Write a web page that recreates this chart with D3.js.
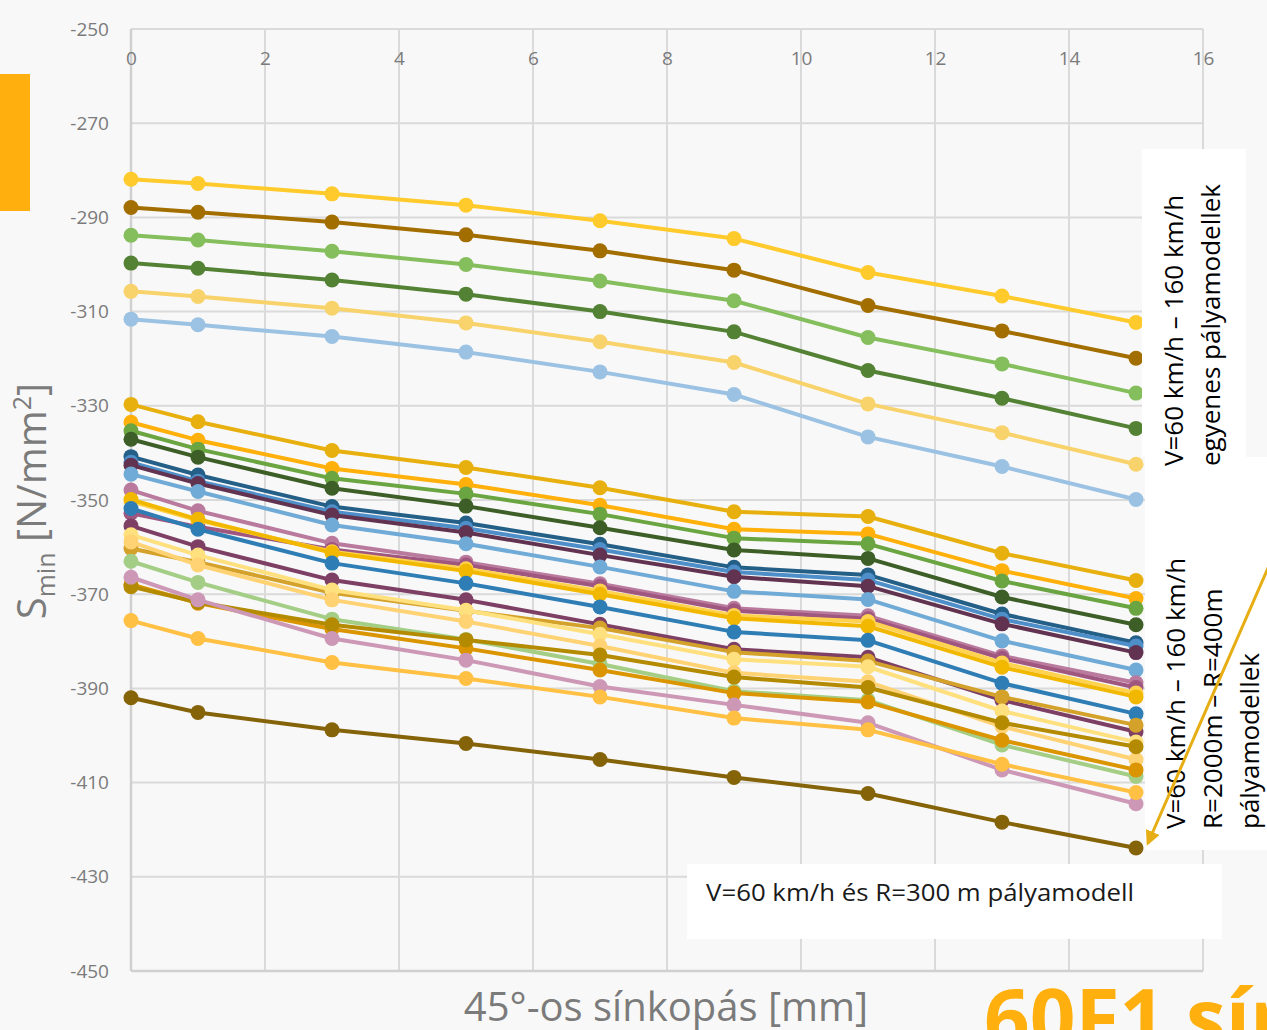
<!DOCTYPE html>
<html>
<head>
<meta charset="utf-8">
<script src="https://cdn.jsdelivr.net/npm/d3@7"></script>
<style>
  html, body { margin: 0; padding: 0; background: #f8f8f8; overflow: hidden; }
  svg { display: block; font-family: 'Open Sans', 'Noto Sans', sans-serif; }
</style>
</head>
<body>
<svg id="chart"></svg>
<script>
// x: 45°-os sínkopás [mm]
const wearMm = [0, 1, 3, 5, 7, 9, 11, 13, 15];
const xTickValues = [0, 2, 4, 6, 8, 10, 12, 14, 16];
const yTickValues = [-250, -270, -290, -310, -330, -350, -370, -390, -410, -430, -450];

// V=60-160 km/h, egyenes pályamodellek
const straightSeries = [
  [-281.9, -282.8, -285.0, -287.4, -290.7, -294.5, -301.7, -306.7, -312.3],
  [-287.9, -288.9, -291.0, -293.7, -297.1, -301.2, -308.7, -314.1, -319.9],
  [-293.8, -294.8, -297.2, -300.0, -303.5, -307.7, -315.5, -321.1, -327.3],
  [-299.7, -300.8, -303.3, -306.3, -310.0, -314.3, -322.5, -328.4, -334.8],
  [-305.7, -306.8, -309.3, -312.4, -316.4, -320.8, -329.6, -335.7, -342.4],
  [-311.6, -312.8, -315.3, -318.6, -322.8, -327.6, -336.6, -342.9, -349.9]
];
const straightColors = ['#ffca2c', '#a36e00', '#85be5c', '#548235', '#f8d36c', '#9bc2e3'];

// V=60-160 km/h, R=2000m - R=400m pályamodellek
const curveSeries = [
  [-329.7, -333.4, -339.5, -343.1, -347.4, -352.5, -353.5, -361.3, -367.1],
  [-333.5, -337.3, -343.3, -346.7, -351.1, -356.2, -357.2, -365.0, -370.9],
  [-335.3, -339.2, -345.4, -348.7, -353.0, -358.1, -359.3, -367.2, -373.0],
  [-337.1, -340.9, -347.5, -351.3, -355.9, -360.6, -362.4, -370.6, -376.5],
  [-340.8, -344.7, -351.4, -354.9, -359.4, -364.3, -365.9, -374.2, -380.3],
  [-342.0, -346.0, -352.5, -356.0, -360.5, -365.3, -367.0, -375.3, -381.0],
  [-342.6, -346.5, -353.2, -356.9, -361.7, -366.3, -368.3, -376.3, -382.4],
  [-344.5, -348.2, -355.3, -359.3, -364.2, -369.4, -371.1, -379.9, -386.1],
  [-347.9, -352.3, -359.2, -363.2, -367.8, -373.0, -374.6, -383.1, -388.8],
  [-352.8, -355.7, -360.5, -363.8, -368.3, -373.5, -375.2, -383.6, -389.8],
  [-350.3, -354.3, -361.0, -364.6, -369.3, -374.5, -375.8, -384.6, -391.0],
  [-349.9, -354.1, -361.2, -365.1, -370.0, -375.1, -376.8, -385.5, -391.8],
  [-351.8, -356.2, -363.4, -367.7, -372.7, -378.0, -379.8, -388.9, -395.4],
  [-355.5, -359.9, -367.0, -371.2, -376.4, -381.7, -383.4, -392.5, -399.2],
  [-360.3, -363.2, -369.7, -373.5, -377.2, -382.3, -384.2, -391.8, -397.8],
  [-357.4, -361.7, -369.1, -373.4, -378.5, -383.8, -385.4, -394.8, -401.4],
  [-358.9, -363.8, -371.2, -375.8, -381.0, -386.7, -388.6, -398.1, -405.1],
  [-363.0, -367.5, -375.3, -379.6, -384.8, -390.6, -392.5, -402.0, -408.7],
  [-367.9, -371.9, -377.4, -381.5, -386.1, -391.0, -392.9, -401.0, -407.3],
  [-368.4, -371.7, -376.5, -379.7, -382.9, -387.6, -389.8, -397.3, -402.4],
  [-366.4, -371.2, -379.4, -384.0, -389.6, -393.5, -397.3, -407.3, -414.5],
  [-375.6, -379.4, -384.5, -387.9, -391.8, -396.3, -398.8, -406.1, -412.1]
];
const curveColors = [
  '#e8b00f', '#ffb00a', '#6ba542', '#3d5f27', '#245f87', '#4e8ec9', '#623350',
  '#70aad6', '#b97a9e', '#9f5780', '#ffd250', '#f2b800', '#2f7db5', '#7e3f65',
  '#d4a22a', '#ffe07e', '#ffd273', '#a4ce85', '#da9500', '#b38a00', '#cc98b6', '#ffc043'
];

// V=60 km/h és R=300 m pályamodell
const curve300Series = [-392.0, -395.1, -398.8, -401.7, -405.1, -408.9, -412.3, -418.4, -423.9];
const curve300Color = '#856308';

const chartInit = () => {
  const width = 1267;
  const height = 1030;
  const plot = { left: 131, right: 1203, top: 29, bottom: 971 };

  const gridColor = '#dadada';
  const labelColor = '#7b7b7b';
  const accent = '#ffb00f';

  const svg = d3.select('#chart').attr('width', width).attr('height', height);

  const x = d3.scaleLinear().domain([0, 16]).range([plot.left, plot.right]);
  const y = d3.scaleLinear().domain([-450, -250]).range([plot.bottom, plot.top]);

  // side accent
  svg.append('rect').attr('x', 0).attr('y', 74).attr('width', 30).attr('height', 137)
    .attr('fill', accent);

  // grid
  svg.append('g').selectAll('line').data(yTickValues).enter().append('line')
    .attr('x1', plot.left).attr('x2', plot.right)
    .attr('y1', (d) => y(d)).attr('y2', (d) => y(d))
    .attr('stroke', gridColor).attr('stroke-width', 2);
  svg.append('g').selectAll('line').data(xTickValues).enter().append('line')
    .attr('x1', (d) => x(d)).attr('x2', (d) => x(d))
    .attr('y1', plot.top).attr('y2', plot.bottom)
    .attr('stroke', gridColor).attr('stroke-width', 2);
  svg.append('line').attr('x1', plot.left).attr('x2', plot.left)
    .attr('y1', plot.top).attr('y2', plot.bottom)
    .attr('stroke', '#d0d0d0').attr('stroke-width', 2.5);
  svg.append('line').attr('x1', plot.left).attr('x2', plot.right)
    .attr('y1', plot.bottom).attr('y2', plot.bottom)
    .attr('stroke', '#d0d0d0').attr('stroke-width', 2.5);

  // axes (labels only)
  const xAxis = svg.append('g').attr('transform', `translate(0,${plot.top})`)
    .call(d3.axisBottom(x).tickValues(xTickValues).tickSize(0).tickPadding(23)
      .tickFormat((d) => `${d}`));
  const yAxis = svg.append('g').attr('transform', `translate(${plot.left},0)`)
    .call(d3.axisLeft(y).tickValues(yTickValues).tickSize(0).tickPadding(22)
      .tickFormat((d) => `${d}`));
  [xAxis, yAxis].forEach((ax) => {
    ax.select('.domain').remove();
    ax.selectAll('text').style('fill', labelColor).style('font-size', '19px')
      .style('font-family', "'Open Sans', sans-serif");
  });

  // series
  const allSeries = []
    .concat(straightSeries.map((v, i) => ({ values: v, color: straightColors[i] })))
    .concat(curveSeries.map((v, i) => ({ values: v, color: curveColors[i] })))
    .concat([{ values: curve300Series, color: curve300Color }]);

  const line = d3.line().x((d) => x(d[0])).y((d) => y(d[1]));

  const seriesG = svg.append('g').selectAll('g').data(allSeries).enter().append('g');
  seriesG.append('path')
    .attr('d', (s) => line(wearMm.map((w, i) => [w, s.values[i]])))
    .attr('fill', 'none').attr('stroke', (s) => s.color).attr('stroke-width', 4)
    .attr('stroke-linejoin', 'round');
  seriesG.selectAll('circle')
    .data((s) => wearMm.map((w, i) => ({ w, v: s.values[i], color: s.color })))
    .enter().append('circle')
    .attr('cx', (d) => x(d.w)).attr('cy', (d) => y(d.v)).attr('r', 7.5)
    .attr('fill', (d) => d.color);

  // axis titles
  svg.append('text')
    .attr('transform', 'translate(46,501) rotate(-90)')
    .attr('text-anchor', 'middle')
    .style('fill', labelColor).style('font-size', '40px')
    .call((t) => {
      t.append('tspan').text('S');
      t.append('tspan').text('min').style('font-size', '25px').attr('dy', 9);
      t.append('tspan').text(' [N/mm').attr('dy', -9);
      t.append('tspan').text('2').style('font-size', '25px').attr('dy', -15);
      t.append('tspan').text(']').attr('dy', 15);
    });

  svg.append('text').attr('x', 666).attr('y', 1021).attr('text-anchor', 'middle')
    .style('fill', labelColor).style('font-size', '40px')
    .text('45°-os sínkopás [mm]');

  svg.append('text').attr('x', 984).attr('y', 1047)
    .style('fill', accent).style('font-size', '80px').style('font-weight', 'bold')
    .style('font-family', "'Open Sans', sans-serif")
    .text('60F1 sín');

  // annotation boxes
  const noteFont = "'Open Sans', 'Noto Sans', sans-serif";
  svg.append('rect').attr('x', 1142).attr('y', 149).attr('width', 104).attr('height', 308)
    .attr('fill', '#ffffff');
  svg.append('rect').attr('x', 1145).attr('y', 457).attr('width', 130).attr('height', 393)
    .attr('fill', '#ffffff');
  svg.append('rect').attr('x', 687).attr('y', 864).attr('width', 535).attr('height', 75)
    .attr('fill', '#ffffff');

  const rotatedNote = (lines, x0, y0, step) => {
    lines.forEach((txt, i) => {
      svg.append('text')
        .attr('transform', `translate(${x0 + i * step},${y0}) rotate(-90)`)
        .style('fill', '#000000').style('font-size', '26px').style('font-family', noteFont)
        .text(txt);
    });
  };
  rotatedNote(['V=60 km/h – 160 km/h', 'egyenes pályamodellek'], 1183, 466, 37);
  rotatedNote(['V=60 km/h – 160 km/h', 'R=2000m – R=400m', 'pályamodellek'], 1185, 829, 37);

  svg.append('text').attr('x', 706).attr('y', 901)
    .style('fill', '#1a1a1a').style('font-size', '23px').style('font-family', noteFont)
    .attr('textLength', 428).attr('lengthAdjust', 'spacingAndGlyphs')
    .text('V=60 km/h és R=300 m pályamodell');

  // arrow towards the R=300 m curve
  const defs = svg.append('defs');
  defs.append('marker').attr('id', 'arrowHead').attr('viewBox', '0 0 10 10')
    .attr('refX', 8).attr('refY', 5).attr('markerWidth', 5).attr('markerHeight', 5)
    .attr('orient', 'auto')
    .append('path').attr('d', 'M0,0 L10,5 L0,10 z').attr('fill', '#e6ae14');
  svg.append('line').attr('x1', 1278).attr('y1', 545).attr('x2', 1148).attr('y2', 843)
    .attr('stroke', '#e6ae14').attr('stroke-width', 3).attr('marker-end', 'url(#arrowHead)');
};

chartInit();
</script>
</body>
</html>
